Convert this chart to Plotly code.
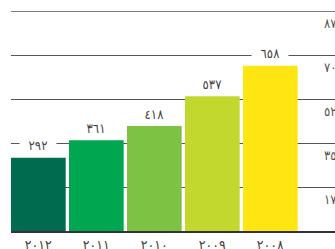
import plotly.graph_objects as go

years = ["٢٠١٢", "٢٠١١", "٢٠١٠", "٢٠٠٩", "٢٠٠٨"]
values = [292, 361, 418, 537, 658]
value_labels = ["٢٩٢", "٣٦١", "٤١٨", "٥٣٧", "٦٥٨"]
bar_colors = ["#006B4F", "#00A650", "#7DC242", "#C3D82F", "#FFE512"]
y_ticks = [175, 350, 525, 700, 875]
y_tick_labels = ["١٧٥", "٣٥٠", "٥٢٥", "٧٠٠", "٨٧٥"]

FONT = "DejaVu Sans Condensed, DejaVu Sans, sans-serif"

fig = go.Figure()
fig.add_trace(go.Bar(
    x=list(range(len(years))), y=values,
    marker=dict(color=bar_colors, line=dict(width=0)),
    width=0.943,
    hoverinfo="skip",
))

for i, (v, lab) in enumerate(zip(values, value_labels)):
    fig.add_annotation(x=i, y=v, text=lab, showarrow=False, yshift=12,
                       bgcolor="white", width=30, borderpad=3,
                       font=dict(family=FONT, size=13, color="#444444"))

for t, lab in zip(y_ticks, y_tick_labels):
    fig.add_annotation(xref="paper", yref="y", x=0.96, y=t, text=lab,
                       showarrow=False, xanchor="left", yanchor="middle",
                       yshift=-12,
                       font=dict(family=FONT, size=13, color="#555555"))

# top gridline at the range edge
fig.add_shape(type="line", xref="paper", yref="y", x0=0, x1=1,
              y0=y_ticks[-1], y1=y_ticks[-1],
              line=dict(color="#555555", width=1), layer="below")

fig.update_layout(
    width=335, height=249,
    margin=dict(l=11, r=0, t=11, b=18, autoexpand=False),
    paper_bgcolor="white", plot_bgcolor="white",
    showlegend=False,
    xaxis=dict(
        range=[-0.4716, 5.115],
        tickmode="array", tickvals=list(range(len(years))), ticktext=years,
        showgrid=False, zeroline=False,
        showline=True, linecolor="#333333", linewidth=2,
        ticks="", tickfont=dict(family=FONT, size=14, color="#444444"),
        ticklabelstandoff=0, automargin=False,
    ),
    yaxis=dict(
        range=[0, 876], tickvals=y_ticks, showticklabels=False,
        showgrid=True, gridcolor="#555555", gridwidth=1,
        zeroline=False, showline=False, ticks="", automargin=False,
    ),
)

fig.write_html("out.html", config={"displayModeBar": False},
               post_script="document.body.style.margin='0';document.body.style.overflow='hidden';")
